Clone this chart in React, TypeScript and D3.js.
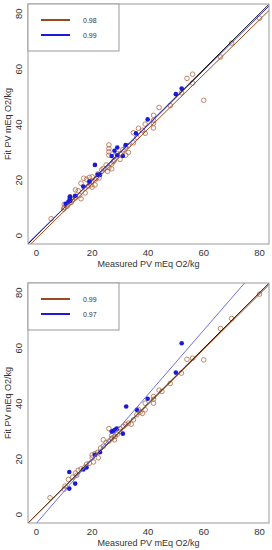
import * as React from 'react';
import * as d3 from 'd3';

// x ticks and y ticks are the same on both panels
const ticks: number[] = [0, 20, 40, 60, 80];
const xTitle = 'Measured PV mEq O2/kg';
const yTitle = 'Fit PV mEq O2/kg';

// top panel: [measured, fit]
const topBrown: number[][] = [
	[80, 78.4], [70, 69.4], [66, 64.4], [56, 58.2], [54, 56.7], [56, 55], [60, 48.8], [52, 51.5],
	[48, 46.9], [44, 46.2], [42, 43.4], [42, 41.6], [42, 40.5], [42, 38.8], [39, 40.2], [36.6, 38.7],
	[34.8, 37.1], [39, 36.9], [34.8, 33.5], [36, 35.5], [38, 38],
	[26, 32.7], [26, 31.4], [26, 30.2], [26, 29], [28, 28.7], [29, 29.5], [27.6, 26.7], [30, 27.5],
	[31, 31], [32, 29], [33, 30], [32, 32], [30, 29.5], [33, 32.5], [28, 27.2], [27, 25.8], [25, 25.5],
	[24, 24.2], [26, 24.5], [27, 24.1], [25.5, 23.2], [23.4, 23.7], [22, 22.2], [21.6, 20.7], [22.5, 20.8],
	[17, 20.7], [18, 20.3], [19, 21], [20, 19.5], [20, 21.2], [21, 20.1], [19.5, 18.3], [18.5, 17.8],
	[20, 17.5], [21, 18.3], [19, 19.3], [17.5, 17.2], [16, 18.9], [17.5, 15.4], [15, 16.2], [14, 16.5],
	[15.5, 14.5], [14, 14], [16, 13.3], [13, 13], [14, 13.6], [12, 13.9], [12.5, 12], [11, 11.2],
	[10, 10.2], [10, 11.3], [11, 10.6], [5.3, 6.1], [9.8, 9.6]
];
const topBlue: number[][] = [
	[52.1, 53], [50, 51], [39.9, 41.9], [35.7, 36.9], [32, 32.7], [29, 31.8], [28, 30.6], [27, 28.7],
	[31, 28.7], [21, 25.5], [22.8, 21.9], [16.8, 17.7], [13.9, 14.4], [12.1, 14.1], [12, 13.2],
	[12.1, 12.5], [11.5, 12.3], [22, 22], [19, 19.5], [29, 29], [10.5, 11.5]
];
const topLegend: string[] = ['0.98', '0.99'];
// fitted lines: [slope, intercept]
const topBrownFit: number[] = [0.985, -1.0];
const topBlueFit: number[] = [0.99, 0.2];

// bottom panel
const bottomBrown: number[][] = [
	[80, 79.5], [70, 70.7], [66, 67.1], [56, 56.4], [54, 56], [60, 55.8], [52, 51], [48, 47.3],
	[45, 44.4], [44, 44.9], [42, 42.6], [42, 41.6], [42, 40.2], [39, 40.2], [39, 37.8], [37.2, 37],
	[38, 36.5], [36, 36], [34.8, 34.2], [33, 33], [32, 32.5], [34, 32.6], [31.2, 31.8], [30, 30],
	[29, 29], [28.2, 28.2], [27, 27.5], [26, 31], [26, 26.5], [25, 26], [24, 27], [24, 24.7], [23, 24],
	[22.2, 20.5], [22, 22.5], [21, 22], [20, 20.5], [20, 21.5], [20.5, 19], [19, 18.5], [18, 18.2],
	[17.5, 17.2], [16, 16.5], [15, 16], [14, 15], [14.5, 14.2], [13, 13.5], [11.5, 12.7], [10.3, 10.3],
	[10, 9.2], [4.9, 6.1], [27, 28.5], [28, 27], [30, 31], [36.5, 38]
];
const bottomBlue: number[][] = [
	[52.1, 61.8], [50, 51.2], [39.9, 41.8], [36, 37.8], [32.2, 39], [31, 29.2], [28.8, 31], [28.2, 30.6],
	[27.6, 30.2], [27, 30], [22.8, 22.5], [21, 21.6], [16.8, 16.3], [11.8, 15.4], [13.9, 11.2],
	[11.8, 9.4], [18, 17]
];
const bottomLegend: string[] = ['0.99', '0.97'];
const bottomBrownFit: number[] = [0.995, -0.1];
const bottomBlueFit: number[] = [1.16, -3.1];

const brown = '#b06a45';
const legendBrown = '#9a4a1e';
const blue = '#1a1ad8';

function drawPanel(svg: any, top: number, brownPts: number[][], bluePts: number[][], legend: string[],
	brownFit: number[], blueFit: number[], blueLine: string) {
	const left = 28;
	const right = 269;
	const h = 240;
	const x = d3.scaleLinear().domain([-3, 83.4]).range([left, right]);
	const y = d3.scaleLinear().domain([-3, 83.5]).range([top + h, top]);
	const g = svg.append('g');

	const clipId = 'clip' + top;
	g.append('clipPath').attr('id', clipId).append('rect')
		.attr('x', left).attr('y', top).attr('width', right - left).attr('height', h);

	const plot = g.append('g').attr('clip-path', `url(#${clipId})`);

	// points
	plot.selectAll('.b').data(brownPts).enter().append('circle')
		.attr('cx', (d: number[]) => x(d[0])).attr('cy', (d: number[]) => y(d[1])).attr('r', 2.3)
		.attr('fill', 'none').attr('stroke', brown).attr('stroke-width', 0.8);
	plot.selectAll('.u').data(bluePts).enter().append('circle')
		.attr('cx', (d: number[]) => x(d[0])).attr('cy', (d: number[]) => y(d[1])).attr('r', 2.3)
		.attr('fill', blue);

	// lines
	const xs = [-10, 100];
	const line = d3.line<number>().x((v) => x(v));
	const addLine = (fit: number[], color: string, w: number) => {
		plot.append('path')
			.attr('d', line.y((v) => y(fit[0] * v + fit[1]))(xs))
			.attr('stroke', color).attr('stroke-width', w).attr('fill', 'none');
	};
	addLine([1, 0], '#111', 1);
	addLine(brownFit, '#9a4a1e', 1);
	addLine(blueFit, blueLine, 1);

	// box
	g.append('rect').attr('x', left).attr('y', top).attr('width', right - left).attr('height', h)
		.attr('fill', 'none').attr('stroke', '#999').attr('stroke-width', 1);

	// axes
	ticks.forEach((t) => {
		g.append('text').attr('x', x(t)).attr('y', top + h + 12).attr('text-anchor', 'middle')
			.attr('font-size', 9.5).attr('fill', '#333').text(t);
		g.append('text').attr('transform', `translate(${left - 6},${y(t)}) rotate(-90)`)
			.attr('text-anchor', 'middle').attr('font-size', 9.5).attr('fill', '#333').text(t);
	});
	g.append('text').attr('x', (left + right) / 2).attr('y', top + h + 23).attr('text-anchor', 'middle')
		.attr('font-size', 9).attr('fill', '#333').text(xTitle);
	g.append('text').attr('transform', `translate(11,${top + h / 2}) rotate(-90)`)
		.attr('text-anchor', 'middle').attr('font-size', 9).attr('fill', '#333').text(yTitle);

	// legend
	g.append('rect').attr('x', left).attr('y', top).attr('width', 91).attr('height', 47)
		.attr('fill', 'white').attr('stroke', '#999');
	const colors = [legendBrown, blue];
	legend.forEach((s, i) => {
		const ly = top + 16 + i * 15;
		g.append('line').attr('x1', 41).attr('x2', 70).attr('y1', ly).attr('y2', ly)
			.attr('stroke', colors[i]).attr('stroke-width', 2);
		g.append('text').attr('x', 83).attr('y', ly + 2.5).attr('font-size', 7).attr('fill', '#333').text(s);
	});
}

export default function App() {
	const ref = React.useRef<SVGSVGElement>(null);

	React.useEffect(() => {
		const svg = d3.select(ref.current);
		svg.selectAll('*').remove();
		drawPanel(svg, 4, topBrown, topBlue, topLegend, topBrownFit, topBlueFit, '#3b32d8');
		drawPanel(svg, 283, bottomBrown, bottomBlue, bottomLegend, bottomBrownFit, bottomBlueFit, '#6f6fe8');
	}, []);

	return (
		<svg ref={ref} width={272} height={550}
			style={{ position: 'absolute', left: 0, top: 0, background: 'white', fontFamily: '"Liberation Sans", Arial, sans-serif' }} />
	);
}
